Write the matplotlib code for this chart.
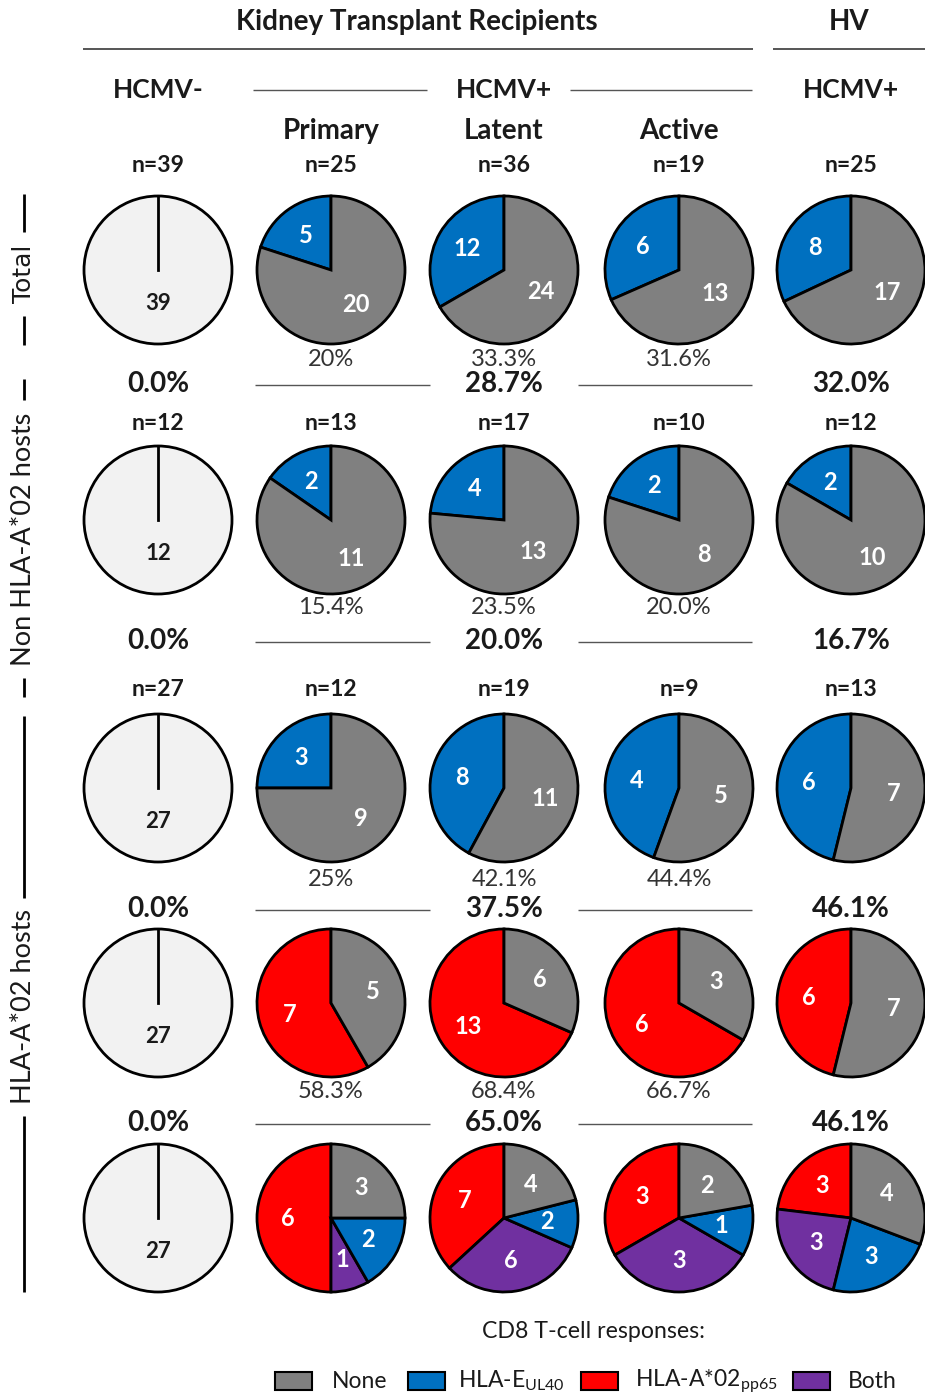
import numpy as np
import matplotlib
matplotlib.use("Agg")
import matplotlib.pyplot as plt
from matplotlib.patches import Rectangle

plt.rcParams['font.family'] = ['Lato', 'DejaVu Sans']
plt.rcParams['mathtext.fontset'] = 'custom'
plt.rcParams['mathtext.rm'] = 'Lato'
plt.rcParams['mathtext.it'] = 'Lato:italic'
plt.rcParams['mathtext.bf'] = 'Lato:bold'

# =====================================================
# DATA
# =====================================================

groups = ["HCMV-", "Primary", "Latent", "Active", "HCMV+"]

# Total
total_n = [39, 25, 36, 19, 25]
total_hlae = [0, 5, 12, 6, 8]
total_none = [39, 20, 24, 13, 17]
total_pct = ["20%", "33.3%", "31.6%"]
total_summary = ["0.0%", "28.7%", "32.0%"]

# Non HLA-A*02 hosts
non_n = [12, 13, 17, 10, 12]
non_hlae = [0, 2, 4, 2, 2]
non_none = [12, 11, 13, 8, 10]
non_pct = ["15.4%", "23.5%", "20.0%"]
non_summary = ["0.0%", "20.0%", "16.7%"]

# HLA-A*02 hosts
a02_n = [27, 12, 19, 9, 13]
a02_hlae = [0, 3, 8, 4, 6]
a02_hlae_none = [27, 9, 11, 5, 7]
a02_hlae_pct = ["25%", "42.1%", "44.4%"]
a02_hlae_summary = ["0.0%", "37.5%", "46.1%"]

a02_pp65 = [0, 7, 13, 6, 6]
a02_pp65_none = [27, 5, 6, 3, 7]
a02_pp65_pct = ["58.3%", "68.4%", "66.7%"]
a02_pp65_summary = ["0.0%", "65.0%", "46.1%"]

# combined responses in HLA-A*02 hosts
comb_pp65 = [0, 6, 7, 3, 3]
comb_both = [0, 1, 6, 3, 3]
comb_hlae = [0, 2, 2, 1, 3]
comb_none = [27, 3, 4, 2, 4]

legend_labels = ["None", "HLA-E$_{\\mathrm{UL40}}$", "HLA-A*02$_{\\mathrm{pp65}}$", "Both"]

# =====================================================
# STYLE / LAYOUT
# =====================================================

C_NONE = "#808080"
C_E = "#0070c0"
C_A = "#ff0000"
C_BOTH = "#7030a0"
C_NEG = "#f2f2f2"
TXT = "#1a1a1a"
LINE = "#555555"

W, H = 925, 1399
col_x = [158, 331, 504, 679, 851]
row_y = [270, 520, 788, 1003, 1218]
R = 74

fig = plt.figure(figsize=(W / 100, H / 100), dpi=100)
bg = fig.add_axes([0, 0, 1, 1])
bg.set_xlim(0, W)
bg.set_ylim(H, 0)
bg.axis('off')


def draw_pie(cx, cy, values, colors):
    ax = fig.add_axes([(cx - R * 1.1) / W, 1 - (cy + R * 1.1) / H,
                       2.2 * R / W, 2.2 * R / H])
    vals = [v for v in values if v > 0]
    cols = [c for v, c in zip(values, colors) if v > 0]
    total = sum(vals)
    if len(vals) == 1:
        ax.pie(vals, colors=[C_NEG], startangle=90, radius=1,
               wedgeprops=dict(edgecolor='black', linewidth=2.0))
        ax.plot([0, 0], [0, 1], color='black', lw=2.0)
        ax.text(0, -0.45, str(total), ha='center', va='center',
                fontsize=16, fontweight='bold', color=TXT)
    else:
        ax.pie(vals, colors=cols, startangle=90, counterclock=True, radius=1,
               autopct=lambda p: f"{int(round(p * total / 100))}",
               pctdistance=0.58,
               textprops=dict(color='white', fontsize=17, fontweight='bold'),
               wedgeprops=dict(edgecolor='black', linewidth=2.0))
    ax.set_xlim(-1.1, 1.1)
    ax.set_ylim(-1.1, 1.1)
    ax.axis('off')


def hline(x0, x1, y, lw=1.0):
    bg.plot([x0, x1], [y, y], color=LINE, lw=lw, solid_capstyle='butt')


def ntext(y, ns):
    for x, n in zip(col_x, ns):
        bg.text(x, y, f"n={n}", ha='center', va='center',
                fontsize=16.5, fontweight='bold', color=TXT)


def pct_text(y, pcts):
    for x, p in zip(col_x[1:4], pcts):
        bg.text(x, y, p, ha='center', va='center', fontsize=17, color='#333333')


def summary(y, vals):
    for x, v in zip([col_x[0], col_x[2], col_x[4]], vals):
        bg.text(x, y, v, ha='center', va='center',
                fontsize=20, fontweight='bold', color=TXT)
    hline(255, 430, y + 1)
    hline(578, 752, y + 1)


# =====================================================
# HEADERS
# =====================================================

bg.text(417, 22, "Kidney Transplant Recipients", ha='center', va='center',
        fontsize=20, fontweight='bold', color=TXT)
bg.text(849, 22, "HV", ha='center', va='center',
        fontsize=20, fontweight='bold', color=TXT)
hline(83, 753, 49, lw=1.4)
hline(773, 925, 49, lw=1.4)

bg.text(col_x[0], 90, groups[0], ha='center', va='center',
        fontsize=19, fontweight='bold', color=TXT)
bg.text(col_x[2], 90, "HCMV+", ha='center', va='center',
        fontsize=19, fontweight='bold', color=TXT)
bg.text(col_x[4], 90, groups[4], ha='center', va='center',
        fontsize=19, fontweight='bold', color=TXT)
hline(253, 427, 90)
hline(570, 752, 90)
for x, g in zip(col_x[1:4], groups[1:4]):
    bg.text(x, 131, g, ha='center', va='center',
            fontsize=20, fontweight='bold', color=TXT)

# =====================================================
# ROWS
# =====================================================

ntext(165, total_n)
for i in range(5):
    draw_pie(col_x[i], row_y[0], [total_hlae[i], total_none[i]], [C_E, C_NONE])
pct_text(359, total_pct)
summary(384, total_summary)

ntext(423, non_n)
for i in range(5):
    draw_pie(col_x[i], row_y[1], [non_hlae[i], non_none[i]], [C_E, C_NONE])
pct_text(608, non_pct)
summary(641, non_summary)

ntext(690, a02_n)
for i in range(5):
    draw_pie(col_x[i], row_y[2], [a02_hlae[i], a02_hlae_none[i]], [C_E, C_NONE])
pct_text(879, a02_hlae_pct)
summary(909, a02_hlae_summary)

for i in range(5):
    draw_pie(col_x[i], row_y[3], [a02_pp65[i], a02_pp65_none[i]], [C_A, C_NONE])
pct_text(1092, a02_pp65_pct)
summary(1123, a02_pp65_summary)

for i in range(5):
    draw_pie(col_x[i], row_y[4],
             [comb_pp65[i], comb_both[i], comb_hlae[i], comb_none[i]],
             [C_A, C_BOTH, C_E, C_NONE])

# =====================================================
# LEFT BRACKETS
# =====================================================

def bracket(y0, y1, t0, t1, label, **kw):
    bg.plot([24, 24], [y0, t0], color='black', lw=2.0, solid_capstyle='butt')
    bg.plot([24, 24], [t1, y1], color='black', lw=2.0, solid_capstyle='butt')
    bg.text(24, (t0 + t1) / 2, label, rotation=90, ha='center', va='center',
            color=TXT, **kw)

bracket(194, 345, 232, 316, "Total", fontsize=18, family='DejaVu Sans')
bracket(379, 697, 400, 678, "Non HLA-A*02 hosts", fontsize=19.5)
bracket(716, 1292, 898, 1116, "HLA-A*02 hosts", fontsize=19.5)

# =====================================================
# LEGEND
# =====================================================

bg.text(594, 1332, "CD8 T-cell responses:", ha='center', va='center',
        fontsize=16.7, color=TXT)
box_x = [275, 408, 581, 793]
text_x = [332, 458, 635, 848]
for bx, tx, c, lab in zip(box_x, text_x, [C_NONE, C_E, C_A, C_BOTH], legend_labels):
    bg.add_patch(Rectangle((bx, 1372), 37, 18, facecolor=c,
                           edgecolor='black', lw=1.5))
    bg.text(tx, 1381, lab, ha='left', va='center', fontsize=16.5, color=TXT)

plt.savefig("out.png", dpi=100)
